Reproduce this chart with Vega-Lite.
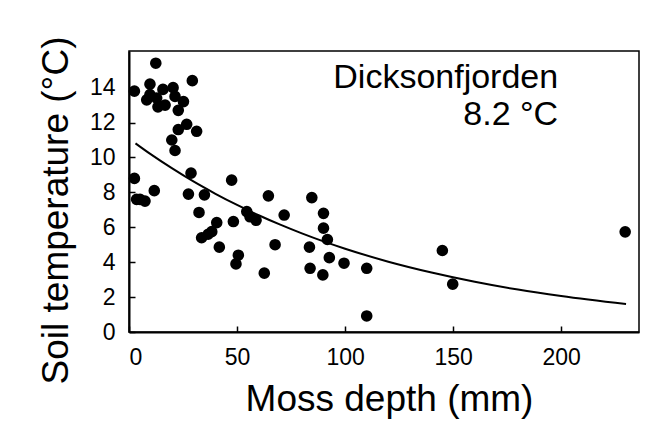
{
  "$schema": "https://vega.github.io/schema/vega-lite/v6.json",
  "autosize": "none",
  "width": 510,
  "height": 281,
  "padding": {"left": 129, "top": 51, "right": 19, "bottom": 98},
  "background": "white",
  "config": {
    "font": "Liberation Sans",
    "view": {"stroke": "black", "strokeWidth": 1.5},
    "axis": {
      "grid": false,
      "domainColor": "black",
      "domainWidth": 2,
      "tickColor": "black",
      "tickWidth": 1.5,
      "tickSize": -6,
      "labelFont": "Liberation Sans",
      "labelFontSize": 23,
      "labelColor": "black",
      "titleFont": "Liberation Sans",
      "titleFontSize": 37,
      "titleFontWeight": "normal",
      "titleColor": "black"
    }
  },
  "datasets": {
    "obs": [
      {"depth": 12.4, "temp": 15.4}, {"depth": 2.5, "temp": 13.8}, {"depth": 29.3, "temp": 14.4},
      {"depth": 9.7, "temp": 14.2}, {"depth": 9.7, "temp": 13.6}, {"depth": 12.8, "temp": 13.4},
      {"depth": 15.7, "temp": 13.9}, {"depth": 16.7, "temp": 13.0}, {"depth": 20.4, "temp": 14.0},
      {"depth": 21.3, "temp": 13.5}, {"depth": 25.2, "temp": 13.2}, {"depth": 22.8, "temp": 12.7},
      {"depth": 8.2, "temp": 13.3}, {"depth": 13.4, "temp": 12.9}, {"depth": 26.7, "temp": 11.9},
      {"depth": 31.3, "temp": 11.5}, {"depth": 22.8, "temp": 11.6}, {"depth": 19.8, "temp": 11.0},
      {"depth": 21.3, "temp": 10.4}, {"depth": 2.5, "temp": 8.8}, {"depth": 28.7, "temp": 9.1},
      {"depth": 47.5, "temp": 8.7}, {"depth": 11.7, "temp": 8.1}, {"depth": 3.5, "temp": 7.6},
      {"depth": 7.4, "temp": 7.5}, {"depth": 5.1, "temp": 7.6}, {"depth": 27.5, "temp": 7.9},
      {"depth": 34.9, "temp": 7.86}, {"depth": 32.4, "temp": 6.85}, {"depth": 40.6, "temp": 6.27},
      {"depth": 38.3, "temp": 5.75}, {"depth": 33.6, "temp": 5.4}, {"depth": 36.6, "temp": 5.6},
      {"depth": 41.8, "temp": 4.86}, {"depth": 48.3, "temp": 6.33}, {"depth": 64.5, "temp": 7.8},
      {"depth": 84.6, "temp": 7.7}, {"depth": 54.5, "temp": 6.9}, {"depth": 58.8, "temp": 6.4},
      {"depth": 56.0, "temp": 6.6}, {"depth": 71.8, "temp": 6.7}, {"depth": 90.0, "temp": 6.8},
      {"depth": 90.0, "temp": 5.95}, {"depth": 91.8, "temp": 5.3}, {"depth": 67.6, "temp": 5.0},
      {"depth": 83.5, "temp": 4.86}, {"depth": 50.6, "temp": 4.4}, {"depth": 49.5, "temp": 3.9},
      {"depth": 62.6, "temp": 3.37}, {"depth": 83.8, "temp": 3.65}, {"depth": 89.7, "temp": 3.27},
      {"depth": 92.7, "temp": 4.26}, {"depth": 99.5, "temp": 3.94}, {"depth": 110.0, "temp": 3.65},
      {"depth": 110.0, "temp": 0.92}, {"depth": 145.0, "temp": 4.67}, {"depth": 149.8, "temp": 2.74},
      {"depth": 229.6, "temp": 5.74}
    ],
    "fit": [
      {"depth": 3, "temp": 10.81}, {"depth": 10, "temp": 10.19}, {"depth": 20, "temp": 9.37},
      {"depth": 30, "temp": 8.61}, {"depth": 40, "temp": 7.92}, {"depth": 50, "temp": 7.28},
      {"depth": 60, "temp": 6.69}, {"depth": 70, "temp": 6.15}, {"depth": 80, "temp": 5.65},
      {"depth": 90, "temp": 5.19}, {"depth": 100, "temp": 4.77}, {"depth": 120, "temp": 4.03},
      {"depth": 140, "temp": 3.41}, {"depth": 160, "temp": 2.88}, {"depth": 180, "temp": 2.43},
      {"depth": 200, "temp": 2.06}, {"depth": 230, "temp": 1.60}
    ],
    "notes": [
      {"depth": 198.6, "temp": 14.0, "label": "Dicksonfjorden"},
      {"depth": 198.6, "temp": 11.88, "label": "8.2 °C"}
    ]
  },
  "encoding": {
    "x": {
      "field": "depth", "type": "quantitative",
      "scale": {"domain": [0, 236], "nice": false, "zero": false},
      "axis": {
        "title": "Moss depth (mm)",
        "values": [0, 50, 100, 150, 200],
        "labelPadding": 20,
        "titleX": 260, "titleY": 78,
        "titleBaseline": "alphabetic", "titleAlign": "center"
      }
    },
    "y": {
      "field": "temp", "type": "quantitative",
      "scale": {"domain": [0, 16.1], "nice": false, "zero": false},
      "axis": {
        "title": "Soil temperature (°C)",
        "values": [0, 2, 4, 6, 8, 10, 12, 14],
        "labelPadding": 20,
        "titleX": -62, "titleY": 159,
        "titleAngle": 270,
        "titleBaseline": "alphabetic", "titleAlign": "center"
      }
    }
  },
  "layer": [
    {
      "data": {"name": "fit"},
      "mark": {"type": "line", "color": "black", "strokeWidth": 2, "interpolate": "monotone"}
    },
    {
      "data": {"name": "obs"},
      "mark": {"type": "circle", "color": "black", "opacity": 1, "size": 135}
    },
    {
      "data": {"name": "notes"},
      "mark": {
        "type": "text", "align": "right", "baseline": "alphabetic",
        "font": "Liberation Sans", "fontSize": 34, "color": "black"
      },
      "encoding": {
        "text": {"field": "label", "type": "nominal"}
      }
    }
  ]
}
